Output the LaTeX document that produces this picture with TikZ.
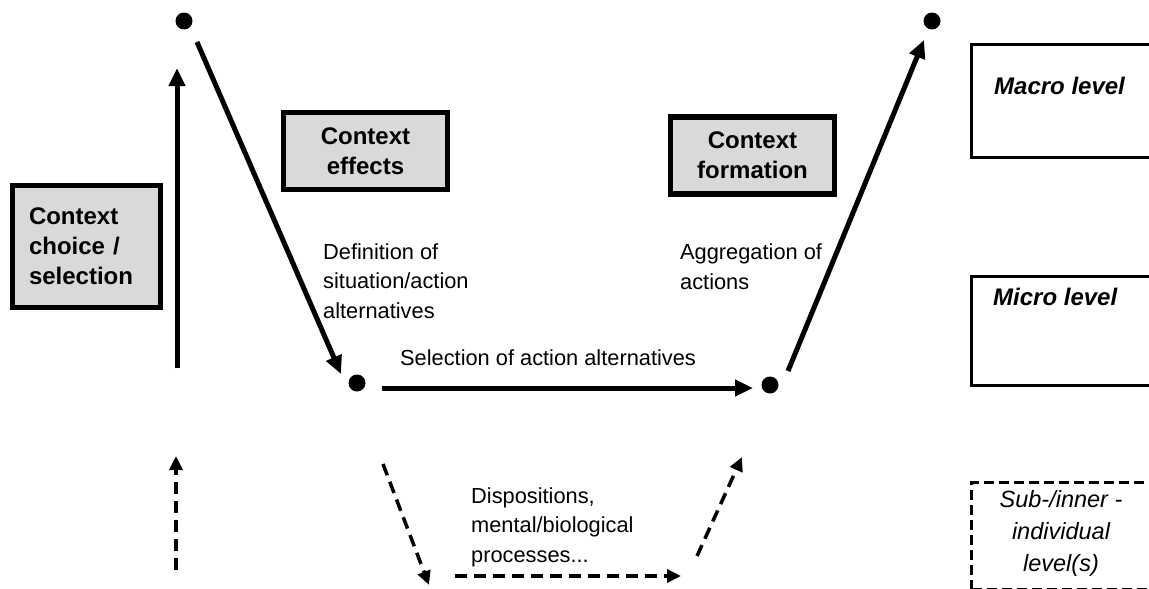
\documentclass[tikz,border=0pt]{standalone}
\usepackage{fontspec}
\setmainfont{Liberation Sans}
\usetikzlibrary{arrows.meta}
\definecolor{boxgray}{RGB}{217,217,217}

\begin{document}
\begin{tikzpicture}[x=1pt, y=-1pt,
    dot/.style={circle, fill=black, inner sep=0pt, minimum size=17pt},
    arr/.style={line width=5pt, -{Triangle[length=18pt, width=16pt]}},
    darr/.style={line width=3.5pt, dash pattern=on 12pt off 7pt, -{Triangle[length=14pt, width=13pt]}},
    ctxbox/.style={draw, fill=boxgray, line width=5.5pt, minimum width=164pt, minimum height=77pt,
        inner sep=0pt, align=center, font=\fontsize{24}{30}\selectfont\bfseries},
    levelbox/.style={draw, line width=3pt, anchor=north west, minimum width=250pt, inner sep=0pt},
    txt/.style={inner sep=0pt, align=left, font=\fontsize{21.8}{29.5}\selectfont},
    lvl/.style={inner sep=0pt, font=\fontsize{23.5}{32}\selectfont\itshape},
    boldlvl/.style={inner sep=0pt, anchor=base west, font=\fontsize{24}{32}\selectfont\bfseries\itshape}]

    \useasboundingbox (0, 0) rectangle (1149, 589);
    \clip (0, 0) rectangle (1149, 589);

    \node[dot] (macroL) at (184, 21) {};
    \node[dot] (macroR) at (932, 21) {};
    \node[dot] (microL) at (357, 383) {};
    \node[dot] (microR) at (770, 385) {};

    \node[ctxbox, minimum width=148pt, minimum height=122pt, text width=115pt, inner xsep=16.5pt,
        align=left] (choice) at (86.5, 246.5) {Context\\choice /\\selection};
    \node[ctxbox] (effects) at (365.5, 151) {Context\\effects};
    \node[ctxbox] (formation) at (752.5, 155.5) {Context\\formation};

    \node[levelbox, minimum height=112.6pt] (macro) at (970.2, 43.2) {};
    \node[levelbox, minimum height=108.6pt] (micro) at (970.2, 275.2) {};
    \node[levelbox, minimum height=107pt, dash pattern=on 10pt off 5pt] (inner) at (970.2, 480.5) {};

    \node[boldlvl] (macrotxt) at (994, 94) {Macro level};
    \node[boldlvl] (microtxt) at (993, 305) {Micro level};
    \node[lvl, align=center, anchor=north] (innertxt) at (1061, 490) {Sub-/inner -\\individual\\level(s)};

    \node[txt, anchor=north west] (defn) at (323, 243) {Definition of\\situation/action\\alternatives};
    \node[txt, anchor=north west] (aggr) at (680, 244) {Aggregation of\\actions};
    \node[txt, anchor=base west] (select) at (400, 365) {Selection of action alternatives};
    \node[txt, anchor=north west] (dispo) at (471, 487) {Dispositions,\\mental/biological\\processes...};

    \coordinate (choiceS) at (177, 368);
    \coordinate (choiceE) at (177, 68);
    \coordinate (effectS) at (197, 42);
    \coordinate (effectE) at (341, 374);
    \coordinate (selectS) at (382, 388);
    \coordinate (selectE) at (753, 388);
    \coordinate (formS) at (788, 371);
    \coordinate (formE) at (924, 40);

    \draw[arr] (choiceS) -- (choiceE);
    \draw[arr] (effectS) -- (effectE);
    \draw[arr] (selectS) -- (selectE);
    \draw[arr] (formS) -- (formE);

    \coordinate (subS) at (176, 570);
    \coordinate (subE) at (176, 456);
    \coordinate (downS) at (383, 464);
    \coordinate (downE) at (429, 585);
    \coordinate (alongS) at (455, 576);
    \coordinate (alongE) at (681, 576);
    \coordinate (upS) at (697, 556);
    \coordinate (upE) at (742, 457);

    \draw[darr] (subS) -- (subE);
    \draw[darr] (downS) -- (downE);
    \draw[darr] (alongS) -- (alongE);
    \draw[darr] (upS) -- (upE);

\end{tikzpicture}
\end{document}
